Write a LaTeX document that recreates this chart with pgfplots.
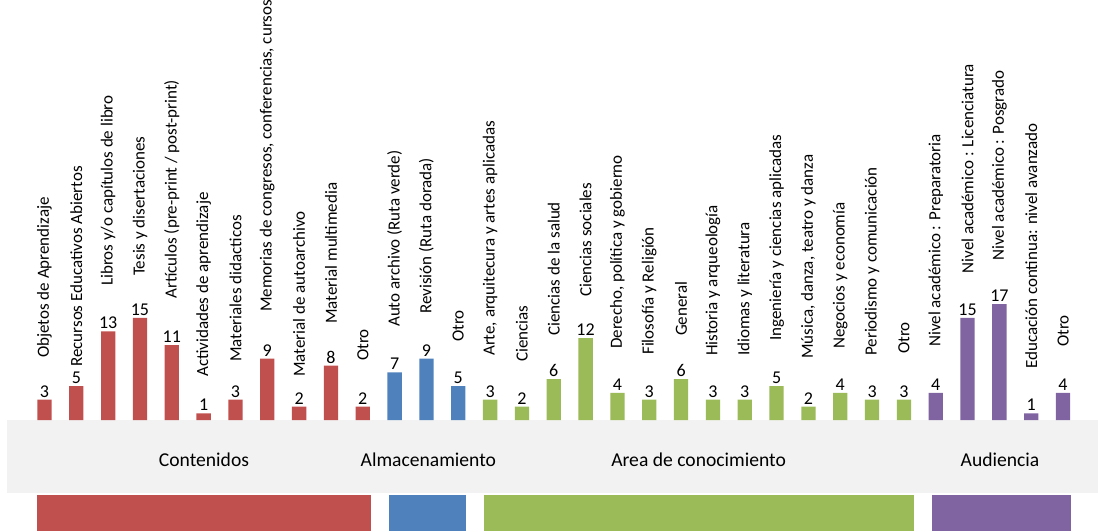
\documentclass[border=0pt]{standalone}
\usepackage{fontspec}
\setmainfont{Carlito}
\usepackage{pgfplots}
\usepackage{pgfplotstable}
\pgfplotsset{compat=1.18}
\definecolor{cRed}{HTML}{C0504D}
\definecolor{cBlue}{HTML}{4F81BD}
\definecolor{cGreen}{HTML}{9BBB59}
\definecolor{cPurple}{HTML}{8064A2}
\definecolor{bandgray}{HTML}{F2F2F2}

\pgfplotstableread{
x y ly label
0 3 9.08 {Objetos de Aprendizaje}
1 5 7.76 {Recursos Educativos Abiertos}
2 13 19.62 {Libros y/o capítulos de libro}
3 15 21.08 {Tesis y disertaciones}
4 11 17.72 {Artículos (pre-print / post-print)}
5 1 6.30 {Actividades de aprendizaje}
6 3 8.49 {Materiales didacticos}
7 9 15.81 {Memorias de congresos, conferencias, cursos}
8 2 6.30 {Material de autoarchivo}
9 8 14.06 {Material multimedia}
10 2 8.64 {Otro}
}\contenidos

\pgfplotstableread{
x y ly label
11 7 13.62 {Auto archivo (Ruta verde)}
12 9 15.52 {Revisión (Ruta dorada)}
13 5 11.42 {Otro}
}\almacen

\pgfplotstableread{
x y ly label
14 3 9.37 {Arte, arquitecura y artes aplicadas}
15 2 8.49 {Ciencias}
16 6 12.30 {Ciencias de la salud}
17 12 18.01 {Ciencias sociales}
18 4 10.40 {Derecho, política y gobierno}
19 3 9.52 {Filosofía y Religión}
20 6 12.30 {General}
21 3 9.37 {Historia y arqueología}
22 3 9.37 {Idiomas y literatura}
23 5 11.57 {Ingeniería y ciencias aplicadas}
24 2 8.93 {Música, danza, teatro y danza}
25 4 10.40 {Negocios y economía}
26 3 9.37 {Periodismo y comunicación}
27 3 9.66 {Otro}
}\area

\pgfplotstableread{
x y ly label
28 4 10.69 {Nivel académico : Preparatoria}
29 15 21.44 {Nivel académico : Licenciatura}
30 17 23.30 {Nivel académico : Posgrado}
31 1 7.47 {Educación continua: nivel avanzado}
32 4 10.69 {Otro}
}\audiencia

\pgfplotsset{
  valbar/.style={ybar, bar width=7.15pt, bar shift=0pt, draw=none, fill=#1,
    nodes near coords,
    nodes near coords style={font=\fontsize{9}{10}\selectfont, inner sep=1pt, text=black}},
  catlab/.style={draw=none, mark=none, nodes near coords, point meta=explicit symbolic,
    nodes near coords align=horizontal,
    nodes near coords style={rotate=90, anchor=west, inner sep=0pt, text=black,
      font=\fontsize{8.5}{10}\selectfont}},
}

\begin{document}
\begin{tikzpicture}
\begin{axis}[
  x=15.915pt, y=3.415pt,
  xmin=-1.398, xmax=33.098, ymin=-16.25, ymax=60.91,
  hide axis, clip=false,
  /pgf/number format/assume math mode=true,
]
\path (axis cs:-1.398,-16.25) rectangle (axis cs:33.098,60.91);
\fill[bandgray] (axis cs:-1.178,0) rectangle (axis cs:33.098,-10.69);
\fill[cRed] (axis cs:-0.236,-10.98) rectangle (axis cs:10.258,-16.25);
\fill[cBlue] (axis cs:10.823,-10.98) rectangle (axis cs:13.242,-16.25);
\fill[cGreen] (axis cs:13.807,-10.98) rectangle (axis cs:27.317,-16.25);
\fill[cPurple] (axis cs:27.883,-10.98) rectangle (axis cs:32.249,-16.25);
\node[font=\fontsize{9.8}{12}\selectfont] at (axis cs:5.011,-5.86) {Contenidos};
\node[font=\fontsize{9.8}{12}\selectfont] at (axis cs:12.06,-5.86) {Almacenamiento};
\node[font=\fontsize{9.8}{12}\selectfont] at (axis cs:20.55,-5.86) {Area de conocimiento};
\node[font=\fontsize{9.8}{12}\selectfont] at (axis cs:30.02,-5.86) {Audiencia};

\addplot[valbar=cRed] table[x=x,y=y]{\contenidos};
\addplot[valbar=cBlue] table[x=x,y=y]{\almacen};
\addplot[valbar=cGreen] table[x=x,y=y]{\area};
\addplot[valbar=cPurple] table[x=x,y=y]{\audiencia};

\addplot[catlab] table[x=x,y=ly,meta=label]{\contenidos};
\addplot[catlab] table[x=x,y=ly,meta=label]{\almacen};
\addplot[catlab] table[x=x,y=ly,meta=label]{\area};
\addplot[catlab] table[x=x,y=ly,meta=label]{\audiencia};
\end{axis}
\end{tikzpicture}
\end{document}
